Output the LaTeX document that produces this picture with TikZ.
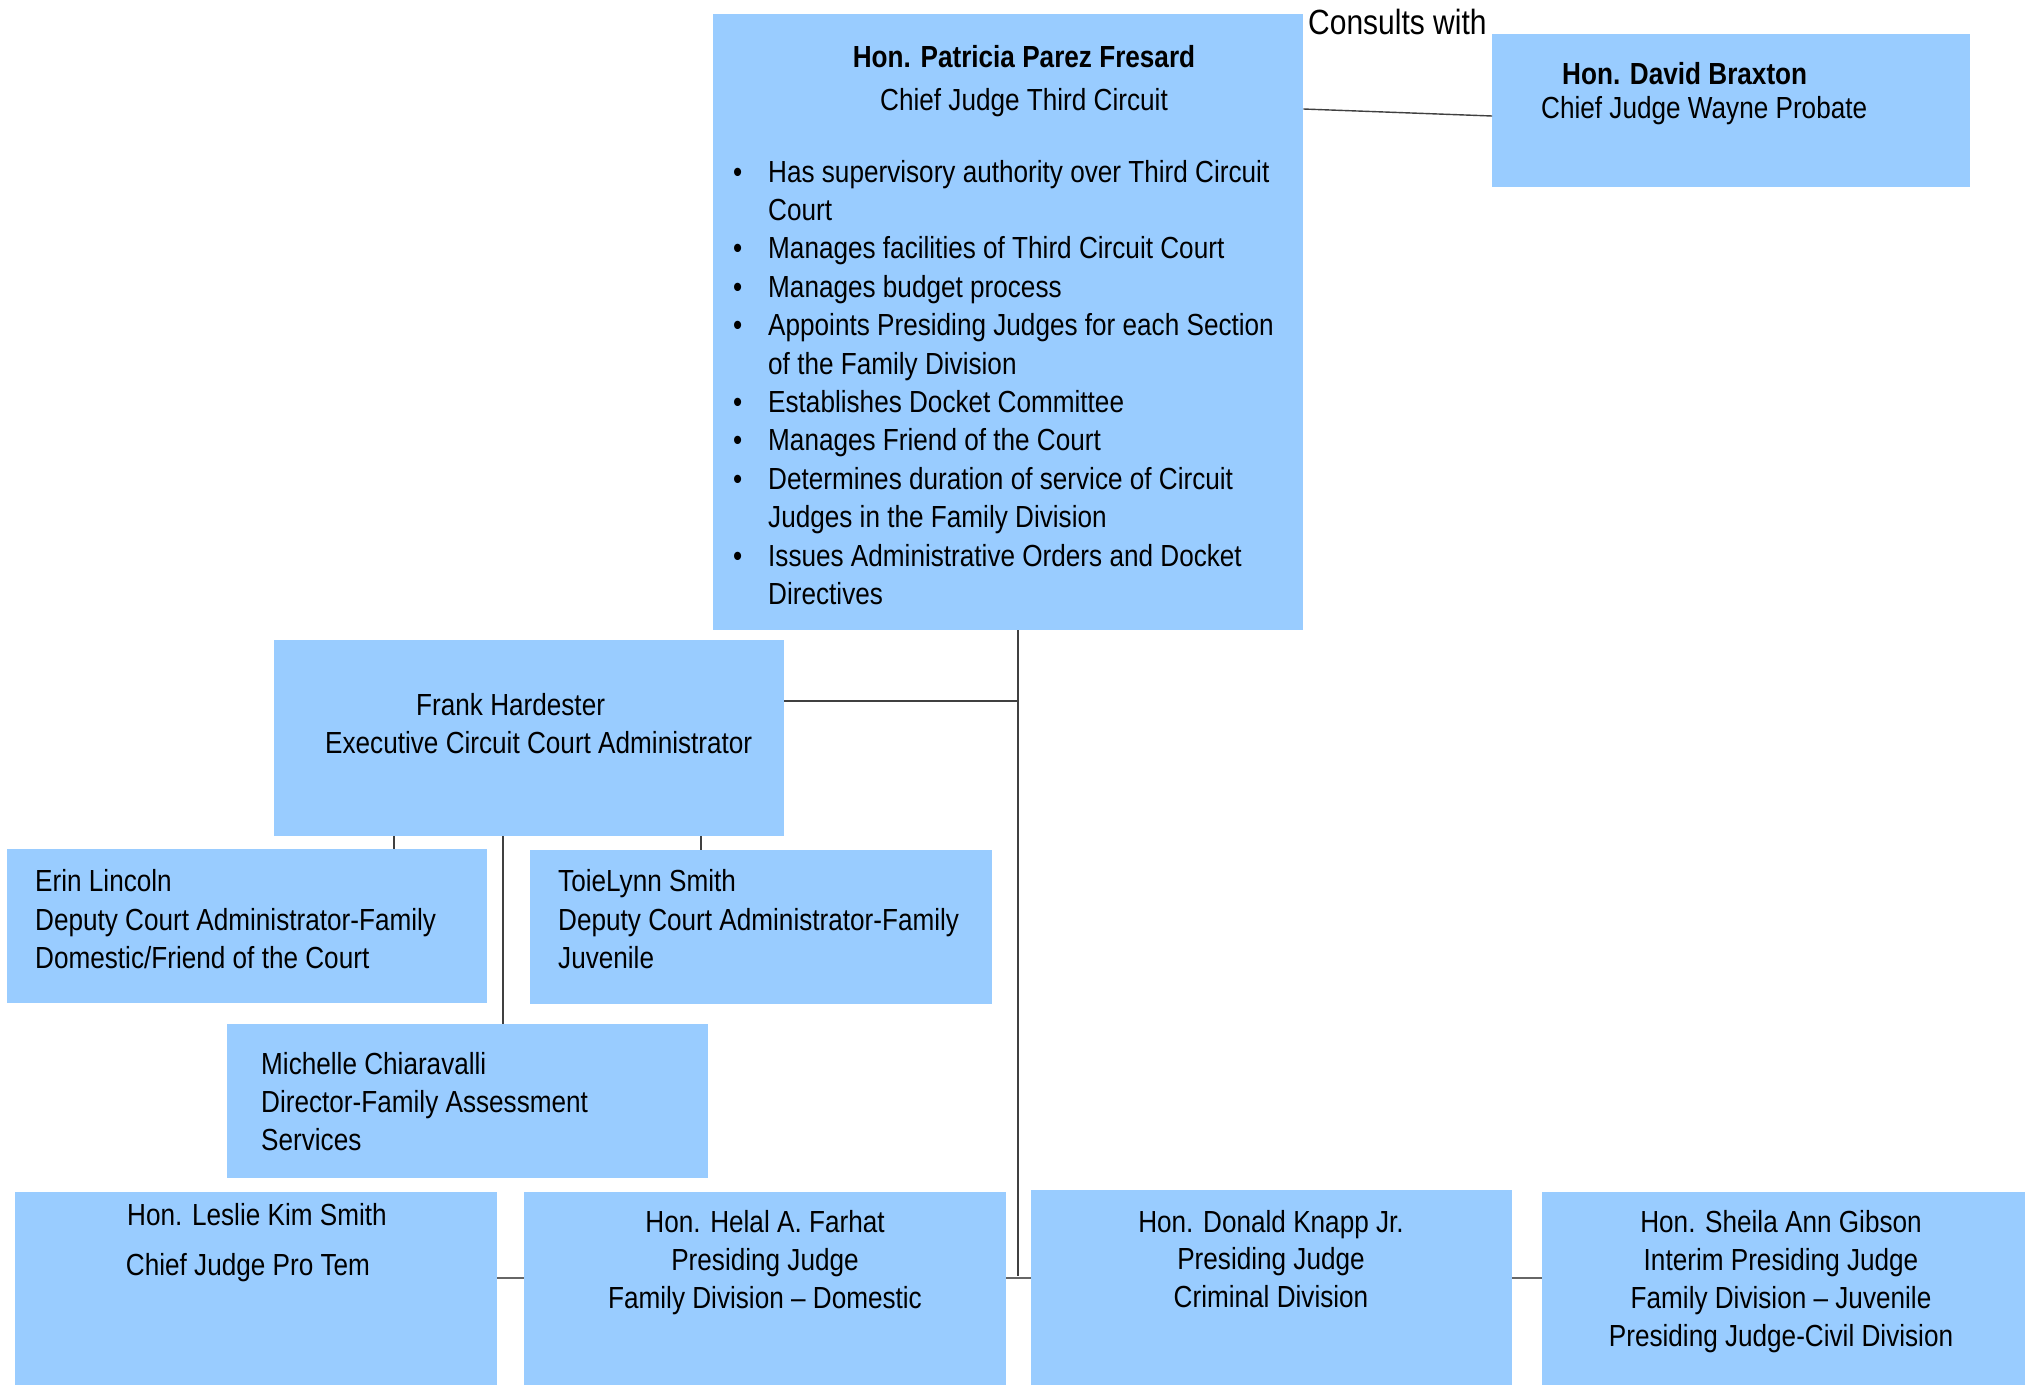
\documentclass[tikz,border=0pt]{standalone}
\usepackage{fontspec}
\setmainfont[FakeStretch=0.857]{Liberation Sans}
\definecolor{boxblue}{RGB}{153,204,255}
\begin{document}
\begin{tikzpicture}[x=1pt,y=-1pt,
  box/.style={fill=boxblue, draw=none, inner sep=0pt, anchor=north west},
  txt/.style={inner sep=0pt, font=\fontsize{30.5}{38.4}\selectfont},
  ttl/.style={inner sep=0pt, font=\fontsize{30.5}{38.4}\selectfont\bfseries},
  conn/.style={draw=black!75, line width=1.4pt},
  hconn/.style={draw=black!60, line width=2pt}]
\useasboundingbox[fill=white] (0,0) rectangle (2025,1384);

% boxes
\node[box, minimum width=590, minimum height=616] (main) at (713,14) {};
\node[box, minimum width=478, minimum height=153] (braxton) at (1492,34) {};
\node[box, minimum width=510, minimum height=196] (frank) at (274,640) {};
\node[box, minimum width=480, minimum height=154] (erin) at (7,849) {};
\node[box, minimum width=462, minimum height=154] (toie) at (530,850) {};
\node[box, minimum width=481, minimum height=154] (michelle) at (227,1024) {};
\node[box, minimum width=482, minimum height=200] (leslie) at (15,1192) {};
\node[box, minimum width=482, minimum height=200] (helal) at (524,1192) {};
\node[box, minimum width=481, minimum height=200] (donald) at (1031,1190) {};
\node[box, minimum width=490, minimum height=200] (sheila) at (1542,1192) {};

% helper coordinates
\coordinate (cA) at (0,109);
\coordinate (cB) at (0,116);
\coordinate (spineTop) at (1018,630);
\coordinate (spineBot) at (1018,1276);
\coordinate (fJ) at (1018,701);
\coordinate (eX) at (394,0);
\coordinate (mX) at (503,0);
\coordinate (tX) at (701,0);
\coordinate (bY) at (0,1278);

% connectors
\draw[conn] (main.east |- cA) -- (braxton.west |- cB);
\draw[conn] (spineTop |- main.south) -- (spineBot);
\draw[conn] (frank.east |- fJ) -- (fJ);
\draw[conn] (frank.south -| eX) -- (erin.north -| eX);
\draw[conn] (frank.south -| mX) -- (michelle.north -| mX);
\draw[conn] (frank.south -| tX) -- (toie.north -| tX);
\draw[hconn] (leslie.east |- bY) -- (helal.west |- bY);
\draw[hconn] (helal.east |- bY) -- (donald.west |- bY);
\draw[hconn] (donald.east |- bY) -- (sheila.west |- bY);

% consults label
\node[inner sep=0pt, font=\fontsize{35}{40}\selectfont, anchor=base west] (consults) at (1308,34) {Consults with};

% main box text
\node[ttl, anchor=base] (mainT1) at (1024,67) {Hon. Patricia Parez Fresard};
\node[txt, anchor=base] (mainT2) at (1024,110) {Chief Judge Third Circuit};
\foreach \t [count=\i] in {Has supervisory authority over Third Circuit, Court,
  Manages facilities of Third Circuit Court, Manages budget process,
  Appoints Presiding Judges for each Section, of the Family Division,
  Establishes Docket Committee, Manages Friend of the Court,
  Determines duration of service of Circuit, Judges in the Family Division,
  Issues Administrative Orders and Docket, Directives}
  \node[txt, anchor=base west] (mb\i) at (768,{182+38.4*(\i-1)}) {\t};
\foreach \i in {1,3,4,5,7,8,9,11}
  \node[txt, anchor=base west] (bul\i) at (733,{182+38.4*(\i-1)}) {•};

% Braxton
\node[ttl, anchor=base west] (braxT1) at (1562,84) {Hon. David Braxton};
\node[txt, anchor=base west] (braxT2) at (1541,118) {Chief Judge Wayne Probate};

% Frank
\node[txt, anchor=base west] (frankT1) at (416,715) {Frank Hardester};
\node[txt, anchor=base west] (frankT2) at (325,753) {Executive Circuit Court Administrator};

% Erin
\node[txt, anchor=base west] (erinT1) at (35,891) {Erin Lincoln};
\node[txt, anchor=base west] (erinT2) at (35,930) {Deputy Court Administrator-Family};
\node[txt, anchor=base west] (erinT3) at (35,968) {Domestic/Friend of the Court};

% Toie
\node[txt, anchor=base west] (toieT1) at (558,891) {ToieLynn Smith};
\node[txt, anchor=base west] (toieT2) at (558,930) {Deputy Court Administrator-Family};
\node[txt, anchor=base west] (toieT3) at (558,968) {Juvenile};

% Michelle
\node[txt, anchor=base west] (micT1) at (261,1074) {Michelle Chiaravalli};
\node[txt, anchor=base west] (micT2) at (261,1112) {Director-Family Assessment};
\node[txt, anchor=base west] (micT3) at (261,1150) {Services};

% Leslie
\node[txt, anchor=base] (lesT1) at (257,1225) {Hon. Leslie Kim Smith};
\node[txt, anchor=base] (lesT2) at (248,1275) {Chief Judge Pro Tem};

% Helal
\node[txt, anchor=base] (helT1) at (765,1232) {Hon. Helal A. Farhat};
\node[txt, anchor=base] (helT2) at (765,1270) {Presiding Judge};
\node[txt, anchor=base] (helT3) at (765,1308) {Family Division – Domestic};

% Donald
\node[txt, anchor=base] (donT1) at (1271,1232) {Hon. Donald Knapp Jr.};
\node[txt, anchor=base] (donT2) at (1271,1269) {Presiding Judge};
\node[txt, anchor=base] (donT3) at (1271,1307) {Criminal Division};

% Sheila
\node[txt, anchor=base] (sheT1) at (1781,1232) {Hon. Sheila Ann Gibson};
\node[txt, anchor=base] (sheT2) at (1781,1270) {Interim Presiding Judge};
\node[txt, anchor=base] (sheT3) at (1781,1308) {Family Division – Juvenile};
\node[txt, anchor=base] (sheT4) at (1781,1346) {Presiding Judge-Civil Division};
\end{tikzpicture}
\end{document}
